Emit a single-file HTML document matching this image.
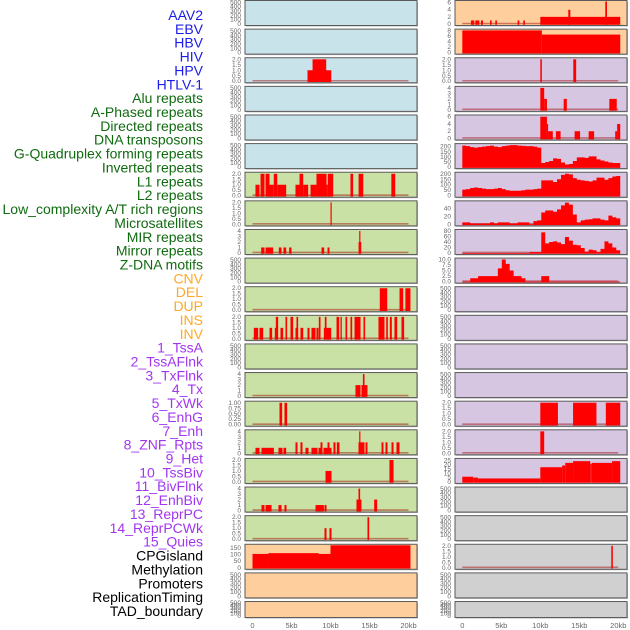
<!DOCTYPE html>
<html><head><meta charset="utf-8">
<style>
html,body{margin:0;padding:0;background:#fff;}
svg{display:block;font-family:"Liberation Sans",sans-serif;}
</style></head>
<body>
<svg id="chart" width="630" height="630" viewBox="0 0 630 630" xmlns="http://www.w3.org/2000/svg"></svg>
<script>
// ---------- data ----------
const trackLabels = ["AAV2","EBV","HBV","HIV","HPV","HTLV-1","Alu repeats","A-Phased repeats","Directed repeats","DNA transposons","G-Quadruplex forming repeats","Inverted repeats","L1 repeats","L2 repeats","Low_complexity A/T rich regions","Microsatellites","MIR repeats","Mirror repeats","Z-DNA motifs","CNV","DEL","DUP","INS","INV","1_TssA","2_TssAFlnk","3_TxFlnk","4_Tx","5_TxWk","6_EnhG","7_Enh","8_ZNF_Rpts","9_Het","10_TssBiv","11_BivFlnk","12_EnhBiv","13_ReprPC","14_ReprPCWk","15_Quies","CPGisland","Methylation","Promoters","ReplicationTiming","TAD_boundary"];
const labelGroups = ["virus","virus","virus","virus","virus","virus","repeat","repeat","repeat","repeat","repeat","repeat","repeat","repeat","repeat","repeat","repeat","repeat","repeat","sv","sv","sv","sv","sv","chrom","chrom","chrom","chrom","chrom","chrom","chrom","chrom","chrom","chrom","chrom","chrom","chrom","chrom","chrom","other","other","other","other","other"];
const xTickVals = [0,5,10,15,20];
const xTickLabels = ["0","5kb","10kb","15kb","20kb"];

const ticks500 = ["0","100","200","300","400","500"];
const ticks2 = ["0.0","0.5","1.0","1.5","2.0"];
const ticks4 = ["0","1","2","3","4"];
const ticks1 = ["0.00","0.25","0.50","0.75","1.00"];
const ticks150 = ["0","50","100","150"];
const ticks6 = ["0","2","4","6"];
const ticks8 = ["0","2","4","6","8"];
const ticks200 = ["0","50","100","150","200"];
const ticks40 = ["0","20","40"];
const ticks80 = ["0","20","40","60","80"];
const ticks10 = ["0.0","2.5","5.0","7.5","10.0"];
const ticks25 = ["0","5","10","15","20","25"];

// segments: [startKb, endKb, value]
const segHIV = [[7.05,10.1,1],[7.7,9.45,2]];
const segL7 = [[0.38,0.9,1],[1.03,1.54,2],[1.67,2.18,2],[2.18,2.73,1],[2.73,3.17,2],[3.17,4.32,1],[5.51,6.03,1],[6.03,6.5,2],[6.5,7.14,1],[7.44,8.2,1],[8.2,9.49,2],[9.49,9.65,1],[9.65,10.35,2],[12.56,12.9,2],[13.6,14.2,2],[17.8,18.3,2]];
const segL8 = [[10.0,10.15,2]];
const segL9 = [[1.11,1.54,1],[1.67,2.65,1],[3.37,3.72,1],[3.97,4.32,1],[4.7,5.0,1],[8.85,9.19,1],[9.62,9.87,1],[13.6,13.94,2],[13.68,13.81,4]];
const segL11 = [[16.32,17.27,2],[18.85,19.32,2],[19.6,20.25,2]];
const segL12 = [[0.17,0.73,1],[0.9,1.37,1],[2.18,2.52,1],[2.86,3.16,1],[3.59,3.93,1],[5.51,5.85,1],[6.15,6.5,1],[7.05,7.31,1],[7.56,8.08,1],[8.2,8.46,1],[9.15,9.32,1],[9.49,10.09,1],[2.99,3.29,2],[4.23,4.44,2],[4.87,5.21,2],[5.64,5.85,2],[8.5,8.72,2],[9.27,9.49,2],[10.77,11.11,2],[11.28,11.45,2],[11.92,12.14,2],[12.56,12.78,2],[13.08,13.85,2],[14.23,14.44,2],[16.15,16.92,2],[17.14,17.35,2],[17.61,17.86,2],[18.2,18.55,2],[19.1,19.44,2]];
const segL14 = [[13.2,13.85,2],[13.97,14.74,2],[14.15,14.36,4]];
const segL15 = [[3.46,3.8,1],[4.1,4.44,1]];
const segL16 = [[0.38,0.9,1],[1.15,2.74,1],[3.33,3.85,1],[3.97,4.32,1],[6.79,7.18,1],[7.56,8.33,1],[8.46,8.97,1],[9.1,9.7,1],[9.87,10.13,1],[10.85,11.15,1],[5.51,5.77,2],[6.15,6.41,2],[8.72,8.97,2],[9.62,9.87,2],[10.38,10.64,2],[10.81,11.15,2],[13.59,14.36,2],[14.49,14.74,2],[16.54,16.79,2],[17.05,17.31,2],[17.82,18.08,2],[18.46,18.85,2],[13.68,13.8,4]];
const segL17 = [[9.36,10.13,1],[17.56,18.08,2]];
const segL18 = [[1.15,1.54,1],[1.67,2.44,1],[3.33,3.72,1],[4.1,4.36,1],[8.08,9.15,1],[9.23,9.49,1],[13.33,13.97,2],[15.6,15.98,2],[13.59,13.8,4]];
const segL19 = [[9.23,9.49,1],[9.87,10.13,1],[14.74,14.96,2]];
const segCpg = [[0,2.05,106],[2.05,8.46,112],[8.46,10.0,106],[10.0,20.25,172]];
const segR1 = [[1.11,1.54,1],[1.67,2.18,1],[2.39,2.65,1],[3.55,3.76,1],[4.23,4.44,1],[7.09,7.31,1],[7.82,8.03,1],[10.0,20.25,2],[13.59,13.85,4],[18.33,18.55,6.3]];
const segR2 = [[0,10.2,8],[10.2,20.25,6.5]];
const segR3 = [[10.0,10.2,2],[14.23,14.6,2]];
const segR4 = [[10.0,10.5,4],[10.5,10.85,2],[13.0,13.4,2],[18.85,19.8,2]];
const segR5 = [[10.0,10.85,6],[10.85,11.0,4],[11.0,11.6,2],[12.0,12.6,2],[14.4,15.1,2],[16.2,16.9,2],[19.6,19.85,2],[19.85,20.25,4]];
const segR15 = [[10.0,12.26,2],[14.2,17.2,2],[18.4,20.25,2]];
const segR16 = [[10.0,10.5,2]];
const segR17 = [[0,1.4,6],[1.4,2.0,5],[2.0,10.0,4],[10.0,12.8,17],[12.8,13.2,19],[13.2,14.2,22],[14.2,16.4,24],[16.4,16.6,21],[16.6,19.2,22],[19.2,20.25,24]];
const segR20 = [[19.1,19.3,2]];

// binned values, 40 bins over 0-20.25kb
const binR6 = [210,205,195,190,195,200,205,210,200,195,205,210,215,215,210,208,205,205,200,190,40,50,60,85,80,45,25,30,60,95,95,90,105,105,75,65,55,45,40,40];
const binR7 = [55,60,70,75,70,65,60,60,65,70,60,50,45,45,45,50,55,55,60,65,140,140,140,125,150,190,200,195,160,145,140,135,130,140,165,165,145,160,175,180];
const binR8 = [5,5,2,2,2,2,2,5,2,5,5,5,2,2,5,5,5,0,8,10,30,35,35,32,38,48,55,50,25,5,10,12,13,15,15,12,10,22,18,15];
const binR9 = [0,0,0,0,0,0,0,0,0,0,0,0,0,0,0,0,0,3,3,3,75,35,40,42,38,32,58,45,30,28,18,5,12,10,3,15,42,35,20,10];
const binR10 = [0,0,1.5,1.5,2.5,2.5,2.5,2.5,2.5,6,10,8,5,2.5,2.5,1.5,0,0,0,0,2.5,2.5,0,0,0,0,0,0,0,0,0,0,0,0,0,0,0,0,0,0];

const BLUE="#c9e3eb", GREEN="#c9e1a5", ORANGE="#fecf9d", PURPLE="#d6c6e2", GREY="#d0d0d0";
const panels = [
 // left column
 {col:0,row:0,bg:BLUE,ymax:520,ticks:ticks500,tmax:500,name:"aav2"},
 {col:0,row:1,bg:BLUE,ymax:520,ticks:ticks500,tmax:500,name:"ebv"},
 {col:0,row:2,bg:BLUE,ymax:2.05,ticks:ticks2,tmax:2,segs:segHIV,name:"hbv"},
 {col:0,row:3,bg:BLUE,ymax:520,ticks:ticks500,tmax:500,name:"hiv"},
 {col:0,row:4,bg:BLUE,ymax:520,ticks:ticks500,tmax:500,name:"hpv"},
 {col:0,row:5,bg:BLUE,ymax:520,ticks:ticks500,tmax:500,name:"htlv1"},
 {col:0,row:6,bg:GREEN,ymax:2.05,ticks:ticks2,tmax:2,segs:segL7,name:"alu"},
 {col:0,row:7,bg:GREEN,ymax:2.05,ticks:ticks2,tmax:2,segs:segL8,name:"a-phased"},
 {col:0,row:8,bg:GREEN,ymax:4.1,ticks:ticks4,tmax:4,segs:segL9,name:"directed"},
 {col:0,row:9,bg:GREEN,ymax:520,ticks:ticks500,tmax:500,name:"dna-transposons"},
 {col:0,row:10,bg:GREEN,ymax:2.05,ticks:ticks2,tmax:2,segs:segL11,name:"g-quad"},
 {col:0,row:11,bg:GREEN,ymax:2.05,ticks:ticks2,tmax:2,segs:segL12,name:"inverted"},
 {col:0,row:12,bg:GREEN,ymax:520,ticks:ticks500,tmax:500,name:"l1"},
 {col:0,row:13,bg:GREEN,ymax:4.1,ticks:ticks4,tmax:4,segs:segL14,name:"l2"},
 {col:0,row:14,bg:GREEN,ymax:1.03,ticks:ticks1,tmax:1,segs:segL15,name:"low-complexity"},
 {col:0,row:15,bg:GREEN,ymax:4.1,ticks:ticks4,tmax:4,segs:segL16,name:"microsatellites"},
 {col:0,row:16,bg:GREEN,ymax:2.05,ticks:ticks2,tmax:2,segs:segL17,name:"mir"},
 {col:0,row:17,bg:GREEN,ymax:4.1,ticks:ticks4,tmax:4,segs:segL18,name:"mirror"},
 {col:0,row:18,bg:GREEN,ymax:2.05,ticks:ticks2,tmax:2,segs:segL19,name:"z-dna"},
 {col:0,row:19,bg:ORANGE,ymax:172,ticks:ticks150,tmax:150,segs:segCpg,nobase:true,name:"cnv"},
 {col:0,row:20,bg:ORANGE,ymax:520,ticks:ticks500,tmax:500,name:"del"},
 {col:0,row:21,bg:ORANGE,ymax:520,ticks:ticks500,tmax:500,name:"dup"},
 // right column
 {col:1,row:0,bg:ORANGE,ymax:6.3,ticks:ticks6,tmax:6,segs:segR1,name:"ins"},
 {col:1,row:1,bg:ORANGE,ymax:8.1,ticks:ticks8,tmax:8,segs:segR2,nobase:true,name:"inv"},
 {col:1,row:2,bg:PURPLE,ymax:2.05,ticks:ticks2,tmax:2,segs:segR3,name:"tssa"},
 {col:1,row:3,bg:PURPLE,ymax:4.1,ticks:ticks4,tmax:4,segs:segR4,name:"tssaflnk"},
 {col:1,row:4,bg:PURPLE,ymax:6.2,ticks:ticks6,tmax:6,segs:segR5,name:"txflnk"},
 {col:1,row:5,bg:PURPLE,ymax:220,ticks:ticks200,tmax:200,bins:binR6,name:"tx"},
 {col:1,row:6,bg:PURPLE,ymax:205,ticks:ticks200,tmax:200,bins:binR7,name:"txwk"},
 {col:1,row:7,bg:PURPLE,ymax:57,ticks:ticks40,tmax:40,bins:binR8,name:"enhg"},
 {col:1,row:8,bg:PURPLE,ymax:82,ticks:ticks80,tmax:80,bins:binR9,name:"enh"},
 {col:1,row:9,bg:PURPLE,ymax:10.2,ticks:ticks10,tmax:10,bins:binR10,name:"znf"},
 {col:1,row:10,bg:PURPLE,ymax:520,ticks:ticks500,tmax:500,name:"het"},
 {col:1,row:11,bg:PURPLE,ymax:520,ticks:ticks500,tmax:500,name:"tssbiv"},
 {col:1,row:12,bg:PURPLE,ymax:520,ticks:ticks500,tmax:500,name:"bivflnk"},
 {col:1,row:13,bg:PURPLE,ymax:520,ticks:ticks500,tmax:500,name:"enhbiv"},
 {col:1,row:14,bg:PURPLE,ymax:2.05,ticks:ticks2,tmax:2,segs:segR15,name:"reprpc"},
 {col:1,row:15,bg:PURPLE,ymax:2.05,ticks:ticks2,tmax:2,segs:segR16,name:"reprpcwk"},
 {col:1,row:16,bg:PURPLE,ymax:26,ticks:ticks25,tmax:25,segs:segR17,nobase:true,name:"quies"},
 {col:1,row:17,bg:GREY,ymax:520,ticks:ticks500,tmax:500,name:"cpgisland"},
 {col:1,row:18,bg:GREY,ymax:520,ticks:ticks500,tmax:500,name:"methylation"},
 {col:1,row:19,bg:GREY,ymax:2.05,ticks:ticks2,tmax:2,segs:segR20,name:"promoters"},
 {col:1,row:20,bg:GREY,ymax:520,ticks:ticks500,tmax:500,name:"replication-timing"},
 {col:1,row:21,bg:GREY,ymax:520,ticks:ticks500,tmax:500,name:"tad-boundary"}
];

// ---------- drawing ----------
const NS="http://www.w3.org/2000/svg";
const svg=document.getElementById("chart");
function mk(tag,attrs,parent){const e=document.createElementNS(NS,tag);for(const k in attrs)e.setAttribute(k,attrs[k]);(parent||svg).appendChild(e);return e;}
const groupColor={virus:"#1c1ce6",repeat:"#106b10",sv:"#ffa826",chrom:"#a236f0",other:"#000000"};
const colPanelX=[245,455], colPanelW=172, colX0=[252.5,462.3], PXKB=7.8;
const ROWSTEP=28.62;
function xScale(col,kb){return colX0[col]+kb*PXKB;}
function rowTop(r){return 0.5+r*ROWSTEP;}
function rowH(r){return r===21?16:25;}
function yScale(p,v){const T=rowTop(p.row),H=rowH(p.row);return T+H-1.5-v/p.ymax*(H-2.5);}

// labels
trackLabels.forEach((t,i)=>{
  const el=mk("text",{x:203,y:20+i*13.86,"text-anchor":"end","font-size":"14",fill:groupColor[labelGroups[i]]});
  
  
  el.textContent=t;
});

panels.forEach(p=>{
  const T=rowTop(p.row),H=rowH(p.row),X=colPanelX[p.col];
  const g=mk("g",{});
  
  
  mk("rect",{x:X+1,y:T+1,width:colPanelW,height:H,fill:"#b8b8b8"},g);
  const bg=mk("rect",{x:X,y:T,width:colPanelW,height:H,fill:p.bg,stroke:"#5a5a5a","stroke-width":1},g);
  
  
  // y ticks
  const n=p.ticks.length;
  p.ticks.forEach((lab,k)=>{
    const v=k/(n-1)*p.tmax;
    const tt=mk("text",{x:X-4+(p.col===0?0:0),y:yScale(p,v)+2,"text-anchor":"end","font-size":"6.5",fill:"#666"},g);
    
    
    tt.textContent=lab;
  });
  const hasData=p.segs||p.bins;
  if(hasData&&!p.nobase){
    const bl=mk("line",{x1:xScale(p.col,0),x2:xScale(p.col,20),y1:yScale(p,0)-0.5,y2:yScale(p,0)-0.5,stroke:"rgba(160,0,0,0.45)","stroke-width":1.6},g);
    
    
  }
  if(p.segs){
    p.segs.forEach(s=>{
      const x1=xScale(p.col,s[0]),x2=xScale(p.col,s[1]),y=yScale(p,s[2]),y0=yScale(p,0)+0.8;
      const r=mk("rect",{x:x1,y:Math.max(y,T),width:Math.max(x2-x1,1.2),height:y0-Math.max(y,T),fill:"#ff0000"},g);
      
      
    });
  }
  if(p.bins){
    const bw=20.25/p.bins.length;
    let d="M"+xScale(p.col,0)+","+(yScale(p,0)+0.8);
    p.bins.forEach((v,i)=>{
      const y=Math.max(yScale(p,v),T);
      d+=" L"+xScale(p.col,i*bw)+","+y+" L"+xScale(p.col,(i+1)*bw)+","+y;
    });
    d+=" L"+xScale(p.col,20.25)+","+(yScale(p,0)+0.8)+" Z";
    const a=mk("path",{d:d,fill:"#ff0000"},g);
    
    
  }
});

// x axes
[0,1].forEach(col=>{
  xTickVals.forEach((v,i)=>{
    const t=mk("text",{x:xScale(col,v),y:628,"text-anchor":"middle","font-size":"7.5",fill:"#666"});
    
    
    t.textContent=xTickLabels[i];
  });
});
</script>
</body></html>
